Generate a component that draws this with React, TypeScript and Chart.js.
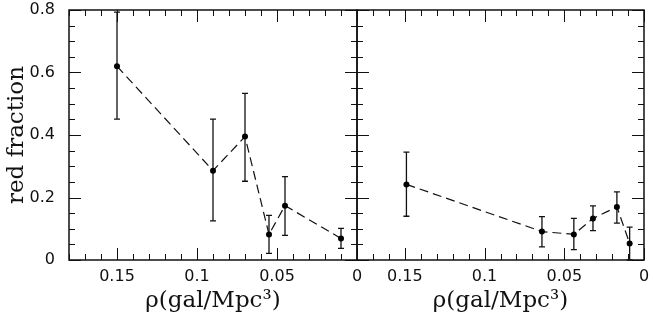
import React, { useEffect, useRef } from "react";
import { Chart, registerables } from "chart.js";

Chart.register(...registerables);

// Left panel data
const leftX = [0.15, 0.09, 0.07, 0.055, 0.045, 0.01];
const leftY = [0.62, 0.286, 0.395, 0.082, 0.174, 0.069];
const leftLo = [0.451, 0.125, 0.252, 0.021, 0.079, 0.037];
const leftHi = [0.793, 0.451, 0.533, 0.143, 0.267, 0.101];

// Right panel data
const rightX = [0.149, 0.064, 0.044, 0.032, 0.017, 0.009];
const rightY = [0.242, 0.091, 0.082, 0.133, 0.17, 0.053];
const rightLo = [0.14, 0.042, 0.033, 0.094, 0.118, 0.0];
const rightHi = [0.345, 0.139, 0.133, 0.173, 0.218, 0.105];

// Axes
const xTicks = [0.15, 0.1, 0.05, 0];
const yTicks = [0, 0.2, 0.4, 0.6, 0.8];
const xMin = 0;
const xMax = 0.18;
const yMin = 0;
const yMax = 0.8;
const xMinorCount = 18; // minor every 0.01
const xMajorEvery = 5;
const yMinorCount = 16; // minor every 0.05
const yMajorEvery = 4;
const yTitle = "red fraction";
const xTitle = "ρ(gal/Mpc³)";

const W = 653;
const H = 321;

const tickFont = { family: "'DejaVu Sans', sans-serif", size: 16 };
const titleFont = { family: "'DejaVu Serif', serif", size: 23 };

const panelPlugin = {
  id: "panelFrame",
  beforeDatasetsDraw(chart: any) {
    const ds = chart.data.datasets[0];
    const xs = chart.scales.x;
    const ys = chart.scales.y;
    const ctx = chart.ctx;
    ctx.save();
    ctx.strokeStyle = "#111";
    ctx.lineWidth = 1.3;
    ds.data.forEach((p: any, i: number) => {
      const px = xs.getPixelForValue(p.x);
      const top = ys.getPixelForValue(ds.errHi[i]);
      const bot = ys.getPixelForValue(ds.errLo[i]);
      const cap = 3;
      ctx.beginPath();
      ctx.moveTo(px, top);
      ctx.lineTo(px, bot);
      ctx.moveTo(px - cap, top);
      ctx.lineTo(px + cap, top);
      ctx.moveTo(px - cap, bot);
      ctx.lineTo(px + cap, bot);
      ctx.stroke();
    });
    ctx.restore();
  },
  afterDraw(chart: any) {
    const { ctx, chartArea } = chart;
    const { left, right, top, bottom } = chartArea;
    const xs = chart.scales.x;
    const ys = chart.scales.y;
    ctx.save();
    ctx.strokeStyle = "#111";
    ctx.lineWidth = 1;
    ctx.beginPath();
    for (let i = 0; i <= xMinorCount; i++) {
      const v = (i * (xMax - xMin)) / xMinorCount + xMin;
      const px = Math.round(xs.getPixelForValue(v)) + 0.5;
      const len = i % xMajorEvery === 0 ? 12 : 6;
      ctx.moveTo(px, bottom);
      ctx.lineTo(px, bottom - len);
      ctx.moveTo(px, top);
      ctx.lineTo(px, top + len);
    }
    for (let i = 0; i <= yMinorCount; i++) {
      const v = (i * (yMax - yMin)) / yMinorCount + yMin;
      const py = Math.round(ys.getPixelForValue(v)) + 0.5;
      const len = i % yMajorEvery === 0 ? 12 : 6;
      ctx.moveTo(left, py);
      ctx.lineTo(left + len, py);
      ctx.moveTo(right, py);
      ctx.lineTo(right - len, py);
    }
    ctx.stroke();
    ctx.lineWidth = 1.5;
    ctx.strokeRect(left, top, right - left, bottom - top);
    ctx.restore();
  },
};

function makeConfig(
  xsArr: number[],
  ysArr: number[],
  lo: number[],
  hi: number[],
  showY: boolean,
  padding: any
): any {
  return {
    type: "line",
    data: {
      datasets: [
        {
          data: xsArr.map((x, i) => ({ x, y: ysArr[i] })),
          errLo: lo,
          errHi: hi,
          borderColor: "#111",
          borderWidth: 1.2,
          borderDash: [9, 5],
          pointRadius: 3,
          pointBackgroundColor: "#000",
          pointBorderWidth: 0,
          fill: false,
          tension: 0,
        },
      ],
    },
    options: {
      animation: false,
      responsive: false,
      events: [],
      layout: { padding },
      plugins: { legend: { display: false }, tooltip: { enabled: false } },
      scales: {
        x: {
          type: "linear",
          min: xMin,
          max: xMax,
          reverse: true,
          grid: { display: false, drawTicks: false },
          border: { display: false },
          afterBuildTicks: (s: any) => {
            s.ticks = xTicks.map((v) => ({ value: v }));
          },
          afterFit: (s: any) => {
            s.height = 61;
            s.paddingLeft = 0;
            s.paddingRight = 0;
          },
          ticks: {
            callback: (v: any) => String(v),
            padding: 7,
            maxRotation: 0,
            autoSkip: false,
            font: tickFont,
            color: "#111",
          },
          title: {
            display: true,
            text: xTitle,
            font: titleFont,
            color: "#111",
            padding: { top: 0, bottom: 6 },
          },
        },
        y: {
          type: "linear",
          display: showY,
          min: yMin,
          max: yMax,
          grid: { display: false, drawTicks: false },
          border: { display: false },
          afterBuildTicks: (s: any) => {
            s.ticks = yTicks.map((v) => ({ value: v }));
          },
          afterFit: (s: any) => {
            s.width = showY ? 69 : 0;
            s.paddingTop = 0;
            s.paddingBottom = 0;
          },
          ticks: {
            callback: (v: any) => String(v),
            padding: 14,
            font: tickFont,
            color: "#111",
          },
          title: {
            display: true,
            text: yTitle,
            font: titleFont,
            color: "#111",
            padding: { top: 3, bottom: 0 },
          },
        },
      },
    },
    plugins: [panelPlugin],
  };
}

export default function App() {
  const leftRef = useRef<HTMLCanvasElement>(null);
  const rightRef = useRef<HTMLCanvasElement>(null);

  useEffect(() => {
    const c1 = new Chart(
      leftRef.current as HTMLCanvasElement,
      makeConfig(leftX, leftY, leftLo, leftHi, true, { left: 0, right: 296, top: 10, bottom: 0 })
    );
    const c2 = new Chart(
      rightRef.current as HTMLCanvasElement,
      makeConfig(rightX, rightY, rightLo, rightHi, false, { left: 357, right: 9, top: 10, bottom: 0 })
    );
    return () => {
      c1.destroy();
      c2.destroy();
    };
  }, []);

  const canvasStyle: React.CSSProperties = { position: "absolute", left: 0, top: 0 };
  return (
    <div style={{ position: "fixed", left: 0, top: 0, width: W, height: H, background: "#fff" }}>
      <canvas ref={leftRef} width={W} height={H} style={{ ...canvasStyle, width: W, height: H }} />
      <canvas ref={rightRef} width={W} height={H} style={{ ...canvasStyle, width: W, height: H }} />
    </div>
  );
}
